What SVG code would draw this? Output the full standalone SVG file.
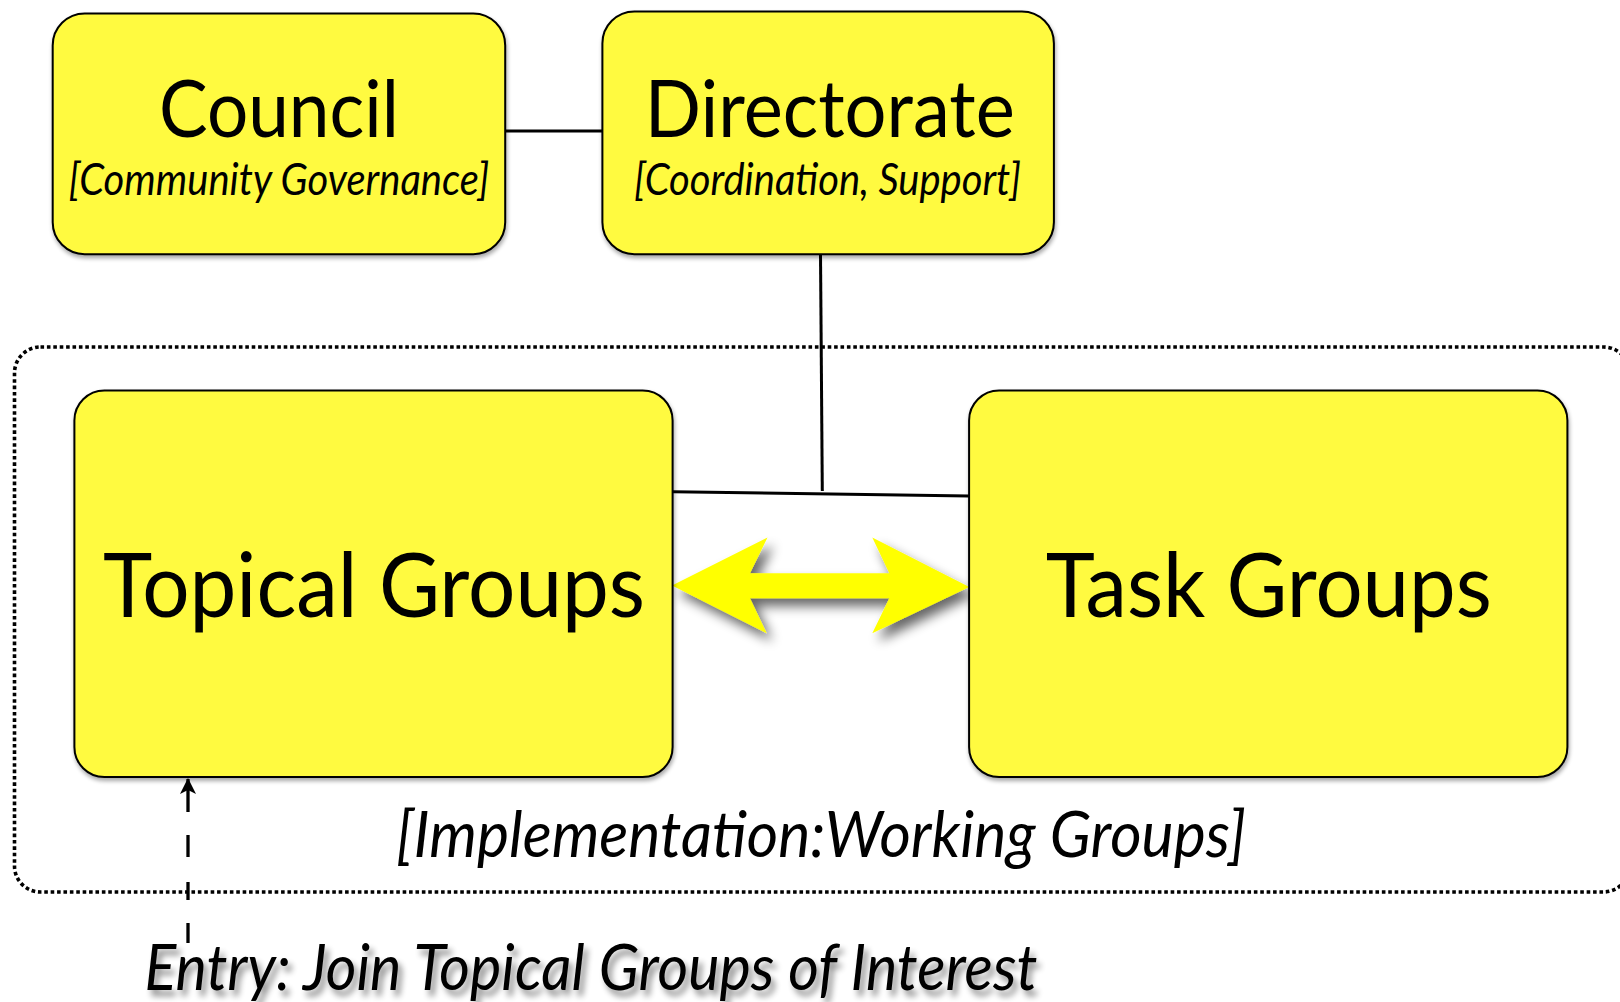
<svg xmlns="http://www.w3.org/2000/svg" width="1620" height="1002" viewBox="0 0 1620 1002">
<style>
.box{fill:#FFFA40;stroke:#000;stroke-width:2;filter:url(#sh)}
.title{font-family:Lato,"Liberation Sans",sans-serif;fill:#000;text-anchor:middle}
.sub{font-family:Lato,"Liberation Sans",sans-serif;font-style:italic;fill:#000;text-anchor:middle}
.conn{stroke:#000;stroke-width:3;fill:none}
</style>
<defs>
<filter id="sh" x="-10%" y="-10%" width="125%" height="125%">
<feGaussianBlur in="SourceAlpha" stdDeviation="2"/>
<feOffset dx="1" dy="3" result="b"/>
<feComponentTransfer><feFuncA type="linear" slope="0.35"/></feComponentTransfer>
<feMerge><feMergeNode/><feMergeNode in="SourceGraphic"/></feMerge>
</filter>
<filter id="ash" x="-20%" y="-30%" width="150%" height="170%">
<feGaussianBlur in="SourceAlpha" stdDeviation="6"/>
<feOffset dx="6" dy="8" result="b"/>
<feComponentTransfer><feFuncA type="linear" slope="0.6"/></feComponentTransfer>
<feMerge><feMergeNode/><feMergeNode in="SourceGraphic"/></feMerge>
</filter>
<filter id="tsh" x="-5%" y="-30%" width="115%" height="170%">
<feGaussianBlur in="SourceAlpha" stdDeviation="3"/>
<feOffset dx="4" dy="6" result="b"/>
<feComponentTransfer><feFuncA type="linear" slope="0.45"/></feComponentTransfer>
<feMerge><feMergeNode/><feMergeNode in="SourceGraphic"/></feMerge>
</filter>
<marker id="ah" viewBox="0 0 16 16" refX="15" refY="8" markerWidth="16" markerHeight="16" markerUnits="userSpaceOnUse" orient="auto">
<path d="M0,0 L16,8 L0,16 L4,8 Z" fill="#000"/>
</marker>
</defs>

<g id="container">
<rect x="14.5" y="347" width="1615" height="545" rx="26" ry="26" fill="none" stroke="#000" stroke-width="3.6" stroke-dasharray="3.6 2.8"/>
<text class="sub" x="821" y="857" font-size="64" textLength="850" lengthAdjust="spacingAndGlyphs">[Implementation:Working Groups]</text>
</g>

<g id="connectors">
<line class="conn" x1="505" y1="131" x2="602" y2="131"/>
<line class="conn" x1="820.5" y1="254" x2="822.3" y2="491"/>
<line class="conn" x1="673" y1="491.7" x2="969" y2="496"/>
<path d="M188,943 V923 M188,900 V882 M188,857 V835 M188,812 V779" stroke="#000" stroke-width="3.3" fill="none" marker-end="url(#ah)"/>
<path id="bidir" filter="url(#ash)" fill="#FFFF00" d="M672,585.5 L767.5,537.5 L750,573.3 L889.3,573.3 L872.3,537.5 L969.3,587 L872.3,633.3 L889.3,598.3 L750,598.3 L766.7,633.3 Z"/>
</g>

<g id="council">
<rect class="box" x="52.7" y="13.4" width="452.5" height="240.8" rx="32" ry="32"/>
<text class="title" x="279" y="137.4" font-size="80" textLength="240" lengthAdjust="spacingAndGlyphs">Council</text>
<text class="sub" x="279" y="195" font-size="44" textLength="421" lengthAdjust="spacingAndGlyphs">[Community Governance]</text>
</g>

<g id="directorate">
<rect class="box" x="602.4" y="11.4" width="451.5" height="242.8" rx="32" ry="32"/>
<text class="title" x="829.8" y="137.4" font-size="80" textLength="370" lengthAdjust="spacingAndGlyphs">Directorate</text>
<text class="sub" x="827.5" y="195" font-size="44" textLength="387" lengthAdjust="spacingAndGlyphs">[Coordination, Support]</text>
</g>

<g id="topical">
<rect class="box" x="74.4" y="390.5" width="598.2" height="386.5" rx="30" ry="30"/>
<text class="title" x="374" y="617" font-size="90" textLength="542" lengthAdjust="spacingAndGlyphs">Topical Groups</text>
</g>

<g id="task">
<rect class="box" x="969.1" y="390.5" width="598.3" height="386.5" rx="30" ry="30"/>
<text class="title" x="1268.8" y="617" font-size="90" textLength="446" lengthAdjust="spacingAndGlyphs">Task Groups</text>
</g>

<g id="entry">
<text class="sub" x="591" y="990" font-size="64" filter="url(#tsh)" textLength="893" lengthAdjust="spacingAndGlyphs">Entry: Join Topical Groups of Interest</text>
</g>
</svg>
